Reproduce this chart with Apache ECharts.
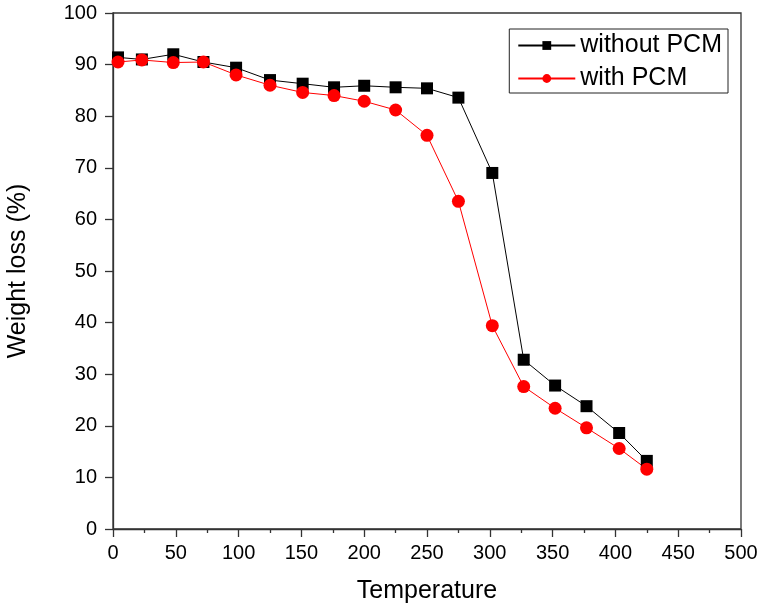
<!DOCTYPE html>
<html>
<head>
<meta charset="utf-8">
<script src="https://cdn.jsdelivr.net/npm/echarts@6/dist/echarts.min.js"></script>
<style>html,body{margin:0;padding:0;background:#fff;}#c{width:761px;height:611px;}</style>
</head>
<body>
<div id="c"></div>
<script>
var temperature = [4, 23, 48, 72, 98, 125, 151, 176, 200, 225, 250, 275, 302, 327, 352, 377, 403, 425];
var withoutPCM = [91.4, 91.0, 92.0, 90.5, 89.4, 87.0, 86.3, 85.6, 85.9, 85.6, 85.4, 83.6, 69.0, 32.8, 27.8, 23.8, 18.6, 13.2];
var withPCM = [90.5, 90.9, 90.4, 90.5, 88.0, 86.0, 84.6, 84.0, 82.9, 81.2, 76.3, 63.5, 39.4, 27.6, 23.4, 19.6, 15.6, 11.6];
var xTicks = [0, 500, 50];
var yTicks = [0, 100, 10];

function pairs(xs, ys) { return xs.map(function (x, i) { return [x, ys[i]]; }); }

var chart = echarts.init(document.getElementById('c'));
var font = 'Liberation Sans, Arial, sans-serif';
chart.setOption({
  animation: false,
  backgroundColor: '#fff',
  grid: { left: 113, right: 20, top: 13, bottom: 82, containLabel: false, outerBoundsMode: 'none', show: true, borderColor: '#333', borderWidth: 1.3, backgroundColor: 'transparent' },
  legend: {
    right: 33, top: 29,
    orient: 'vertical',
    borderColor: '#222', borderWidth: 1,
    padding: [4, 6, 2, 8],
    itemGap: 8,
    itemWidth: 57, itemHeight: 11,
    textStyle: { fontFamily: font, fontSize: 25, color: '#000' },
    data: ['without PCM', 'with PCM']
  },
  xAxis: {
    type: 'value', min: xTicks[0], max: xTicks[1], interval: xTicks[2],
    name: 'Temperature', nameLocation: 'middle', nameGap: 50,
    nameTextStyle: { fontFamily: font, fontSize: 25, color: '#000' },
    axisLine: { onZero: false, lineStyle: { color: '#333', width: 1.3 } },
    axisTick: { show: true, inside: false, length: 8, lineStyle: { color: '#333', width: 1.3 } },
    minorTick: { show: true, splitNumber: 2, length: 4, lineStyle: { color: '#333', width: 1.3 } },
    axisLabel: { fontFamily: font, fontSize: 20, color: '#000', margin: 14 },
    splitLine: { show: false }
  },
  yAxis: {
    type: 'value', min: yTicks[0], max: yTicks[1], interval: yTicks[2],
    name: 'Weight loss (%)', nameLocation: 'middle', nameGap: 82, nameRotate: 90,
    nameTextStyle: { fontFamily: font, fontSize: 25, color: '#000' },
    axisLine: { onZero: false, lineStyle: { color: '#333', width: 1.3 } },
    axisTick: { show: true, inside: false, length: 8, lineStyle: { color: '#333', width: 1.3 } },
    axisLabel: { fontFamily: font, fontSize: 20, color: '#000', margin: 16 },
    splitLine: { show: false }
  },
  series: [
    {
      name: 'without PCM', type: 'line', data: pairs(temperature, withoutPCM),
      symbol: 'rect', symbolSize: 12,
      itemStyle: { color: '#000' },
      lineStyle: { color: '#000', width: 1 }
    },
    {
      name: 'with PCM', type: 'line', data: pairs(temperature, withPCM),
      symbol: 'circle', symbolSize: 13,
      itemStyle: { color: '#ff0000' },
      lineStyle: { color: '#ff0000', width: 1 }
    }
  ]
});
</script>
</body>
</html>
